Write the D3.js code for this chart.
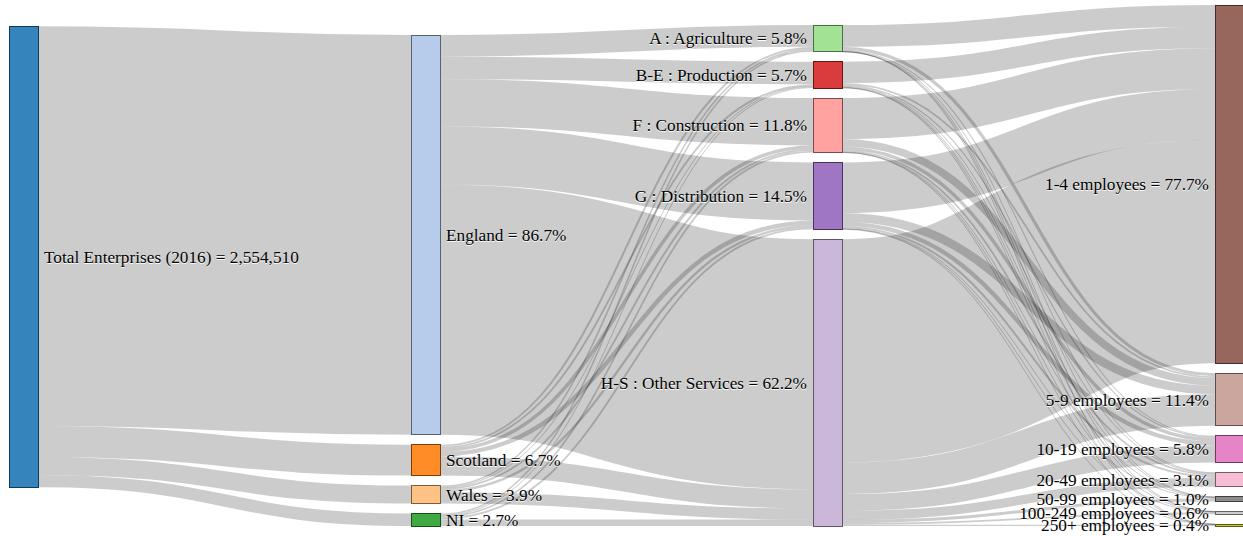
<!DOCTYPE html>
<html><head><meta charset="utf-8">
<script src="https://cdn.jsdelivr.net/npm/d3@7"></script>
<style>
body{margin:0;background:#fff;}
svg{display:block;}
.link{fill:none;stroke:#000;stroke-opacity:.2;}
.node rect{fill-opacity:.9;shape-rendering:crispEdges;}
.node text{font-family:"Liberation Serif","Times New Roman",serif;font-size:17.25px;fill:#000;text-shadow:0 1px 0 #fff;}
</style></head><body>
<svg id="chart" width="1243" height="536"></svg>
<script>
// ---------------- DATA ----------------
const totalName = "Total Enterprises (2016)";
const regions = ["England", "Scotland", "Wales", "NI"];
const sectors = ["A : Agriculture", "B-E : Production", "F : Construction", "G : Distribution", "H-S : Other Services"];
const sizes = ["1-4 employees", "5-9 employees", "10-19 employees", "20-49 employees", "50-99 employees", "100-249 employees", "250+ employees"];
// enterprises: region (rows) -> sector (columns)
const regionSector = [
  [120000, 125000, 262000, 322000, 1385760],
  [11000, 10500, 19500, 24500, 105650],
  [8500, 5000, 10500, 13500, 62130],
  [8660, 5110, 9430, 10400, 35370]
];
// enterprises: sector (rows) -> size band (columns)
const sectorSize = [
  [121000, 17500, 6000, 2600, 680, 280, 100],
  [118000, 9500, 7000, 5500, 2600, 1800, 1210],
  [227000, 42000, 18500, 9500, 2500, 1300, 630],
  [281000, 48000, 24000, 11000, 3300, 1900, 1200],
  [1237854, 174214, 92662, 50590, 16465, 10047, 7078]
];

// ---------------- STYLE ----------------
const palette = ["#1f77b4","#aec7e8","#ff7f0e","#ffbb78","#2ca02c","#98df8a","#d62728","#ff9896","#9467bd","#c5b0d5","#8c564b","#c49c94","#e377c2","#f7b6d2","#7f7f7f","#c7c7c7","#bcbd22","#dbdb8d","#17becf","#9edae5"];
const W = 1243, H = 536;
const ext = {x0: 9, y0: 5, x1: 1244, y1: 526};
const nodeWidth = 29, nodePadding = 10, iterations = 32;

// ---------------- GRAPH ----------------
const names = [totalName].concat(regions, sectors, sizes);
const nodes = names.map(n => ({name: n}));
const links = [];
const rIdx = i => 1 + i, sIdx = i => 1 + regions.length + i, zIdx = i => 1 + regions.length + sectors.length + i;
regions.forEach((r, i) => links.push({source: 0, target: rIdx(i), value: d3.sum(regionSector[i])}));
regionSector.forEach((row, i) => row.forEach((v, j) => links.push({source: rIdx(i), target: sIdx(j), value: v})));
sectorSize.forEach((row, i) => row.forEach((v, j) => links.push({source: sIdx(i), target: zIdx(j), value: v})));

// ---------------- SANKEY LAYOUT (classic relaxation, input node order kept) ----------------
function sankey(nodes, links) {
  const {x0, y0, x1, y1} = ext;
  const dx = nodeWidth, py = nodePadding;
  nodes.forEach((n, i) => { n.index = i; n.sourceLinks = []; n.targetLinks = []; });
  links.forEach((l, i) => {
    l.index = i;
    l.source = nodes[l.source]; l.target = nodes[l.target];
    l.source.sourceLinks.push(l); l.target.targetLinks.push(l);
  });
  nodes.forEach(n => n.value = Math.max(d3.sum(n.sourceLinks, l => l.value), d3.sum(n.targetLinks, l => l.value)));
  let current = nodes.filter(n => n.targetLinks.length === 0), x = 0;
  while (current.length) {
    const next = [];
    current.forEach(n => { n.depth = x; n.sourceLinks.forEach(l => { if (next.indexOf(l.target) < 0) next.push(l.target); }); });
    x++; current = next;
  }
  const nCols = x;
  const kx = (x1 - x0 - dx) / (nCols - 1);
  const columns = d3.range(nCols).map(() => []);
  nodes.forEach(n => {
    const i = n.sourceLinks.length ? n.depth : nCols - 1;
    n.layer = i; n.x0 = x0 + i * kx; n.x1 = n.x0 + dx;
    columns[i].push(n);
  });
  const ky = d3.min(columns, c => (y1 - y0 - (c.length - 1) * py) / d3.sum(c, n => n.value));
  const yScale = d3.scaleLinear().domain([0, 1]).range([0, ky]);
  columns.forEach(col => col.forEach((n, i) => { n.y = i; n.dy = yScale(n.value); }));
  links.forEach(l => l.dy = yScale(l.value));
  const center = n => n.y + n.dy / 2;

  function resolve() {
    columns.forEach(col => {
      let y = y0, n, d, i;
      for (i = 0; i < col.length; ++i) {
        n = col[i]; d = y - n.y; if (d > 0) n.y += d; y = n.y + n.dy + py;
      }
      d = y - py - y1;
      if (d > 0) {
        y = n.y -= d;
        for (i = col.length - 2; i >= 0; --i) {
          n = col[i]; d = n.y + n.dy + py - y; if (d > 0) n.y -= d; y = n.y;
        }
      }
    });
  }
  function relaxLR(alpha) {
    columns.forEach(col => col.forEach(n => {
      if (n.targetLinks.length) {
        const y = d3.sum(n.targetLinks, l => center(l.source) * l.value) / d3.sum(n.targetLinks, l => l.value);
        n.y += (y - center(n)) * alpha;
      }
    }));
  }
  function relaxRL(alpha) {
    columns.slice().reverse().forEach(col => col.forEach(n => {
      if (n.sourceLinks.length) {
        const y = d3.sum(n.sourceLinks, l => center(l.target) * l.value) / d3.sum(n.sourceLinks, l => l.value);
        n.y += (y - center(n)) * alpha;
      }
    }));
  }
  resolve();
  for (let alpha = 1, k = iterations; k > 0; --k) {
    relaxRL(alpha *= 0.99); resolve();
    relaxLR(alpha); resolve();
  }
  nodes.forEach(n => {
    n.y0 = n.y; n.y1 = n.y + n.dy;
    n.sourceLinks.sort((a, b) => a.target.y - b.target.y);
    n.targetLinks.sort((a, b) => a.source.y - b.source.y);
  });
  nodes.forEach(n => {
    let a = n.y0, b = n.y0;
    n.sourceLinks.forEach(l => { l.width = l.dy; l.y0 = a + l.dy / 2; a += l.dy; });
    n.targetLinks.forEach(l => { l.y1 = b + l.dy / 2; b += l.dy; });
  });
}
sankey(nodes, links);

// ---------------- DRAW ----------------
const total = nodes.find(n => n.name === totalName).value;
const pct = d3.format(".1%"), num = d3.format(",");
const svg = d3.select("#chart");
const linkPath = d3.linkHorizontal().source(d => [d.source.x1, d.y0]).target(d => [d.target.x0, d.y1]);

svg.append("g").selectAll("path").data(links).join("path")
  .attr("class", "link")
  .attr("d", linkPath)
  .attr("stroke-width", d => Math.max(1, d.width));

const node = svg.append("g").selectAll("g").data(nodes).join("g").attr("class", "node");
node.append("rect")
  .attr("x", d => d.x0).attr("y", d => d.y0)
  .attr("width", d => d.x1 - d.x0).attr("height", d => Math.max(1, d.y1 - d.y0))
  .attr("fill", d => palette[d.index % palette.length])
  .attr("stroke", d => d3.rgb(palette[d.index % palette.length]).darker(2));
node.append("text")
  .attr("x", d => d.x0 < W / 2 ? d.x1 + 6 : d.x0 - 6)
  .attr("y", d => (d.y0 + d.y1) / 2)
  .attr("dy", "0.35em")
  .attr("text-anchor", d => d.x0 < W / 2 ? "start" : "end")
  .text(d => d.index === 0 ? `${d.name} = ${num(d.value)}` : `${d.name} = ${pct(d.value / total)}`);
</script>
</body></html>
